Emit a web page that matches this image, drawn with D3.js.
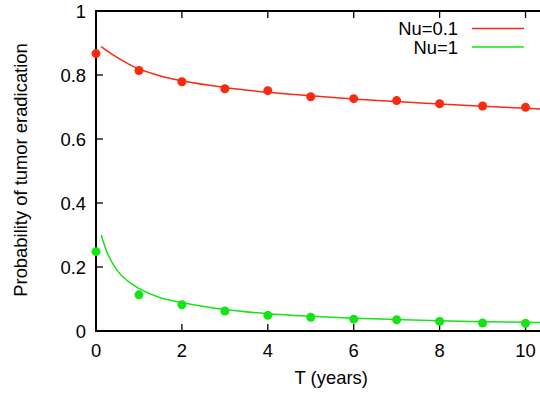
<!DOCTYPE html>
<html>
<head>
<meta charset="utf-8">
<script src="https://cdn.jsdelivr.net/npm/d3@7/dist/d3.min.js"></script>
<style>
  html, body { margin: 0; padding: 0; background: #fff; }
  svg { display: block; }
  text { font-family: "Liberation Sans", Arial, Helvetica, sans-serif; font-size: 18.4px; fill: #000; }
</style>
</head>
<body>
<svg id="chart" width="540" height="394"></svg>
<script>
// ---- data ----
const pointT = [0, 1, 2, 3, 4, 5, 6, 7, 8, 9, 10];
const redPoints = [0.867, 0.814, 0.779, 0.757, 0.751, 0.732, 0.726, 0.720, 0.710, 0.703, 0.699];
const greenPoints = [0.248, 0.113, 0.082, 0.0625, 0.049, 0.043, 0.037, 0.035, 0.030, 0.025, 0.024];

const curveT = [0.12, 0.25, 0.5, 0.75, 1, 1.5, 2, 3, 4, 5, 6, 7, 8, 9, 10, 10.5];
const redCurve = [0.889, 0.876, 0.854, 0.835, 0.819, 0.797, 0.782, 0.761, 0.746, 0.735, 0.725, 0.717, 0.709, 0.702, 0.696, 0.693];
const greenCurve = [0.300, 0.248, 0.188, 0.155, 0.133, 0.104, 0.089, 0.067, 0.054, 0.046, 0.040, 0.036, 0.032, 0.029, 0.027, 0.026];

const xTicks = [0, 2, 4, 6, 8, 10];
const yTicks = [0, 0.2, 0.4, 0.6, 0.8, 1];
const legendLabels = ["Nu=0.1", "Nu=1"];
const xLabel = "T (years)";
const yLabel = "Probability of tumor eradication";

const RED = "#fa2a10";
const GREEN = "#14e414";

// ---- layout ----
const svg = d3.select("#chart");
const mLeft = 96, mRight = 547, mTop = 11, mBottom = 331;
const x = d3.scaleLinear().domain([0, 10.5]).range([mLeft, mRight]);
const y = d3.scaleLinear().domain([0, 1]).range([mBottom, mTop]);

svg.append("defs").append("clipPath").attr("id", "clip")
  .append("rect").attr("x", mLeft).attr("y", mTop).attr("width", mRight - mLeft).attr("height", mBottom - mTop);

// ticks (inward, mirrored)
const tickLen = 7;
const tg = svg.append("g").attr("stroke", "#000").attr("stroke-width", 1.3);
xTicks.forEach(t => {
  tg.append("line").attr("x1", x(t)).attr("x2", x(t)).attr("y1", mBottom).attr("y2", mBottom - tickLen);
  tg.append("line").attr("x1", x(t)).attr("x2", x(t)).attr("y1", mTop).attr("y2", mTop + tickLen);
});
yTicks.forEach(t => {
  tg.append("line").attr("x1", mLeft).attr("x2", mLeft + tickLen).attr("y1", y(t)).attr("y2", y(t));
  tg.append("line").attr("x1", mRight).attr("x2", mRight - tickLen).attr("y1", y(t)).attr("y2", y(t));
});

// border
svg.append("rect").attr("x", mLeft).attr("y", mTop).attr("width", mRight - mLeft).attr("height", mBottom - mTop)
  .attr("fill", "none").attr("stroke", "#000").attr("stroke-width", 2);

// tick labels
xTicks.forEach(t => {
  svg.append("text").attr("x", x(t)).attr("y", 357).attr("text-anchor", "middle").text(d3.format("d")(t));
});
yTicks.forEach(t => {
  svg.append("text").attr("x", 86).attr("y", y(t)).attr("dy", "0.36em").attr("text-anchor", "end")
    .text(t === 0 || t === 1 ? String(t) : d3.format(".1f")(t));
});

// axis labels
svg.append("text").attr("x", x(5.5) - 1).attr("y", 384).attr("text-anchor", "middle").text(xLabel);
svg.append("text").attr("transform", "translate(27,170) rotate(-90)").attr("text-anchor", "middle").text(yLabel);

// curves
const plot = svg.append("g").attr("clip-path", "url(#clip)");
const line = d3.line().x(d => x(d[0])).y(d => y(d[1])).curve(d3.curveMonotoneX);
plot.append("path").datum(curveT.map((t, i) => [t, redCurve[i]]))
  .attr("d", line).attr("fill", "none").attr("stroke", RED).attr("stroke-width", 1.5);
plot.append("path").datum(curveT.map((t, i) => [t, greenCurve[i]]))
  .attr("d", line).attr("fill", "none").attr("stroke", GREEN).attr("stroke-width", 1.5);

// points
svg.append("g").selectAll("circle").data(pointT.map((t, i) => [t, redPoints[i]])).join("circle")
  .attr("cx", d => x(d[0])).attr("cy", d => y(d[1])).attr("r", 4.5).attr("fill", RED);
svg.append("g").selectAll("circle").data(pointT.map((t, i) => [t, greenPoints[i]])).join("circle")
  .attr("cx", d => x(d[0])).attr("cy", d => y(d[1])).attr("r", 4.5).attr("fill", GREEN);

// legend
const legColors = [RED, GREEN];
legendLabels.forEach((lab, i) => {
  const ly = 28.5 + i * 18.5;
  svg.append("text").attr("x", 458).attr("y", ly).attr("dy", "0.36em").attr("text-anchor", "end").text(lab);
  svg.append("line").attr("x1", 472).attr("x2", 524).attr("y1", ly).attr("y2", ly)
    .attr("stroke", legColors[i]).attr("stroke-width", 1.5);
});
</script>
</body>
</html>
